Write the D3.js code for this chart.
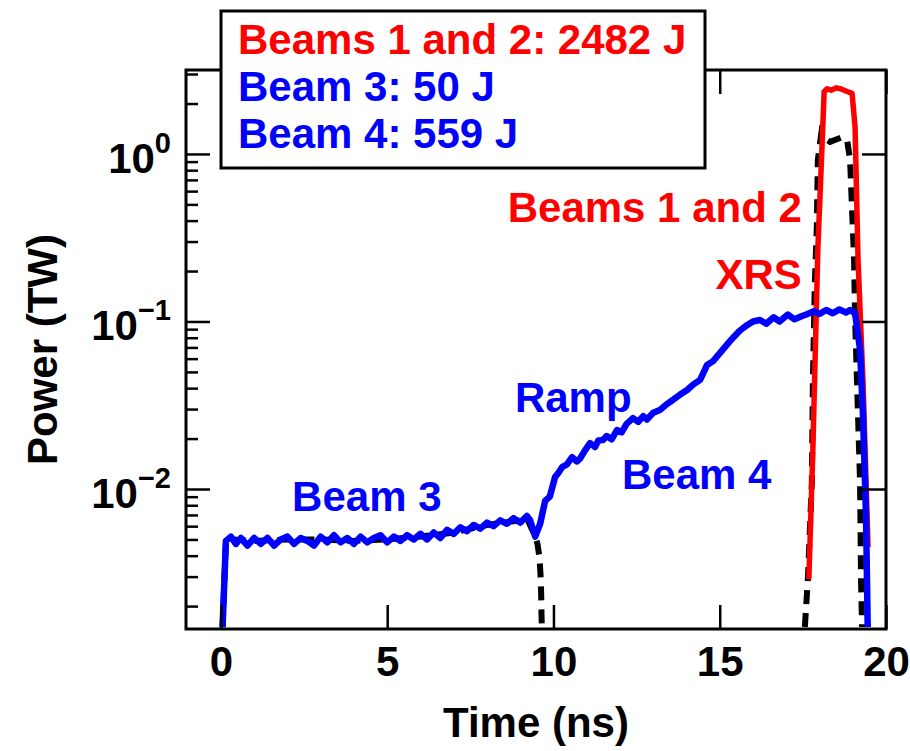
<!DOCTYPE html>
<html>
<head>
<meta charset="utf-8">
<script src="https://cdn.jsdelivr.net/npm/d3@7"></script>
<style>
  body { margin: 0; background: #fff; }
  svg text { font-family: "Liberation Sans", Arial, Helvetica, sans-serif; font-weight: bold; }
</style>
</head>
<body>
<div id="chart"></div>
<script>
// blue: beam 3 foot + beam 4 ramp (TW vs ns)
const blueTime = [0.05, 0.15, 0.3, 0.45, 0.6, 0.8, 1.0, 1.2, 1.4, 1.6, 1.8, 2.0, 2.2, 2.4, 2.6, 2.8, 3.0, 3.2, 3.4, 3.6, 3.8, 4.0, 4.2, 4.4, 4.6, 4.8, 5.0, 5.2, 5.4, 5.6, 5.8, 6.0, 6.2, 6.4, 6.6, 6.8, 7.0, 7.2, 7.4, 7.6, 7.8, 8.0, 8.2, 8.4, 8.6, 8.8, 9.0, 9.2, 9.3, 9.45,
  9.6, 9.75, 9.89, 10.05, 10.15, 10.26, 10.4, 10.56, 10.7, 10.8, 10.95, 11.1, 11.25, 11.35, 11.49, 11.6, 11.75, 11.91, 12.05, 12.2, 12.39, 12.55, 12.7, 12.81, 13.0, 13.2, 13.4, 13.59, 13.8, 14.02, 14.2, 14.41, 14.62, 14.8, 15.01, 15.2, 15.4, 15.6, 15.82, 16.0, 16.21, 16.4, 16.62, 16.8, 17.05, 17.25, 17.44, 17.6, 17.83, 18.0, 18.2, 18.4, 18.6, 18.8, 18.92, 19.07, 19.22, 19.31, 19.4, 19.45];
const bluePower = [0.0015, 0.0049, 0.0052, 0.0047, 0.0051, 0.0046, 0.0051, 0.0047, 0.0051, 0.0046, 0.0050, 0.0052, 0.0047, 0.0051, 0.0049, 0.0046, 0.0052, 0.0048, 0.0053, 0.0048, 0.0051, 0.0047, 0.0052, 0.0048, 0.0051, 0.0053, 0.0048, 0.0052, 0.0049, 0.0053, 0.0050, 0.0054, 0.0050, 0.0055, 0.0051, 0.0057, 0.0054, 0.0059, 0.0056, 0.0061, 0.0058, 0.0063, 0.0060, 0.0065, 0.0062, 0.0067, 0.0063, 0.0069, 0.0065, 0.0052,
  0.0062, 0.0085, 0.0090, 0.0118, 0.0125, 0.0135, 0.0140, 0.0155, 0.0146, 0.0152, 0.0170, 0.0188, 0.0178, 0.0195, 0.0196, 0.0207, 0.0198, 0.0225, 0.0218, 0.0245, 0.0265, 0.0252, 0.0272, 0.0260, 0.0285, 0.0296, 0.0320, 0.0340, 0.0365, 0.039, 0.042, 0.0448, 0.055, 0.058, 0.065, 0.072, 0.080, 0.088, 0.095, 0.100, 0.102, 0.097, 0.106, 0.100, 0.110, 0.103, 0.107, 0.110, 0.115, 0.111, 0.117, 0.112, 0.118, 0.113, 0.117, 0.112, 0.068, 0.027, 0.0068, 0.0015];

// red: beams 1 and 2
const redTime = [17.68, 17.80, 17.95, 18.06, 18.14, 18.23, 18.35, 18.5, 18.65, 18.83, 18.98, 19.07, 19.16, 19.31, 19.46];
const redPower = [0.0029, 0.017, 0.27, 0.92, 2.35, 2.45, 2.40, 2.48, 2.44, 2.36, 2.30, 1.45, 0.23, 0.043, 0.0045];

// black dashed: XRS, foot part and peak part
const xrsFootTime = [0.05, 0.15, 0.3, 1.0, 2.0, 3.0, 4.0, 5.0, 6.0, 7.0, 8.0, 9.0, 9.2, 9.45, 9.52, 9.58, 9.61, 9.63, 9.64, 9.65];
const xrsFootPower = [0.0015, 0.0049, 0.0050, 0.0049, 0.0050, 0.0050, 0.0049, 0.0050, 0.0052, 0.0055, 0.0061, 0.0065, 0.0067, 0.0052, 0.0047, 0.0039, 0.0031, 0.0024, 0.0018, 0.0015];
const xrsPeakTime = [17.56, 17.65, 17.77, 17.80, 17.86, 17.92, 17.95, 18.06, 18.15, 18.23, 18.32, 18.5, 18.68, 18.83, 18.92, 18.98, 19.04, 19.07, 19.16, 19.22, 19.25, 19.28];
const xrsPeakPower = [0.0015, 0.0029, 0.011, 0.043, 0.17, 0.37, 0.92, 1.35, 1.28, 1.21, 1.18, 1.22, 1.26, 1.21, 0.92, 0.46, 0.233, 0.106, 0.027, 0.011, 0.0028, 0.0015];

const xTicks = [0, 5, 10, 15, 20];
const yMajor = [0.01, 0.1, 1];
const yExp = ["\u22122", "\u22121", "0"];
const yMinor = [0.002, 0.003, 0.004, 0.005, 0.006, 0.007, 0.008, 0.009,
  0.02, 0.03, 0.04, 0.05, 0.06, 0.07, 0.08, 0.09,
  0.2, 0.3, 0.4, 0.5, 0.6, 0.7, 0.8, 0.9, 2, 3];

const legendLines = ["Beams 1 and 2: 2482 J", "Beam 3: 50 J", "Beam 4: 559 J"];
const legendColors = ["#ff0000", "#0000ff", "#0000ff"];

// in-plot labels, placed in data units (time, power)
const notes = [
  { text: "Beam 3", t: 2.14, p: 0.0074, color: "#0000ff", anchor: "start" },
  { text: "Ramp", t: 8.84, p: 0.0290, color: "#0000ff", anchor: "start" },
  { text: "Beam 4", t: 12.06, p: 0.0100, color: "#0000ff", anchor: "start" },
  { text: "Beams 1 and 2", t: 17.47, p: 0.390, color: "#ff0000", anchor: "end" },
  { text: "XRS", t: 17.47, p: 0.157, color: "#ff0000", anchor: "end" }
];

const W = 910, H = 751;
const mLeft = 186, mRight = 886, mTop = 70, mBottom = 629;
const FS = 42;

const svg = d3.select("#chart").append("svg")
  .attr("width", W).attr("height", H);

const x = d3.scaleLinear().domain([-1.05, 20]).range([mLeft, mRight]);
const y = d3.scaleLog().domain([0.00146, 3.17]).range([mBottom, mTop]);

svg.append("defs").append("clipPath").attr("id", "clip")
  .append("rect").attr("x", mLeft).attr("y", mTop)
  .attr("width", mRight - mLeft).attr("height", mBottom - mTop);

const line = d3.line().x(d => x(d[0])).y(d => y(d[1]));
const zip = (a, b) => a.map((v, i) => [v, b[i]]);

const plot = svg.append("g").attr("clip-path", "url(#clip)");

[zip(xrsFootTime, xrsFootPower), zip(xrsPeakTime, xrsPeakPower)].forEach(seg => {
  plot.append("path").datum(seg)
    .attr("d", line).attr("fill", "none").attr("stroke", "#000")
    .attr("stroke-width", 6).attr("stroke-dasharray", "14,9");
});
plot.append("path").datum(zip(redTime, redPower))
  .attr("d", line).attr("fill", "none").attr("stroke", "#ff0000")
  .attr("stroke-width", 5.5).attr("stroke-linejoin", "round");
plot.append("path").datum(zip(blueTime, bluePower))
  .attr("d", line).attr("fill", "none").attr("stroke", "#0000ff")
  .attr("stroke-width", 6.5).attr("stroke-linejoin", "round");

// ticks (inward)
function tickGroup(axis, tx, ty) {
  const g = svg.append("g").attr("transform", `translate(${tx},${ty})`).call(axis);
  g.select(".domain").remove();
  g.selectAll(".tick line").attr("stroke", "#000").attr("stroke-width", 2.5);
  return g;
}
tickGroup(d3.axisLeft(y).tickValues(yMajor).tickSizeInner(-24).tickSizeOuter(0).tickFormat(""), mLeft, 0);
tickGroup(d3.axisLeft(y).tickValues(yMinor).tickSizeInner(-12).tickSizeOuter(0).tickFormat(""), mLeft, 0);
tickGroup(d3.axisRight(y).tickValues(yMajor).tickSizeInner(-24).tickSizeOuter(0).tickFormat(""), mRight, 0);
tickGroup(d3.axisTop(x).tickValues(xTicks).tickSizeInner(-24).tickSizeOuter(0).tickFormat(""), 0, mTop);
const xg = tickGroup(d3.axisBottom(x).tickValues(xTicks).tickSizeInner(-24).tickSizeOuter(0).tickPadding(17), 0, mBottom);
xg.selectAll("text").attr("font-size", FS).attr("fill", "#000")
  .style("font-family", "'Liberation Sans', Arial, sans-serif").style("font-weight", "bold");

// frame
svg.append("rect").attr("x", mLeft).attr("y", mTop)
  .attr("width", mRight - mLeft).attr("height", mBottom - mTop)
  .attr("fill", "none").attr("stroke", "#000").attr("stroke-width", 3);

// y labels 10^n
yMajor.forEach((v, i) => {
  const t = svg.append("text").attr("x", 171).attr("y", y(v) + 19)
    .attr("text-anchor", "end").attr("font-size", FS).attr("fill", "#000").text("10");
  t.append("tspan").attr("font-size", 29).attr("dy", -20).text(yExp[i]);
});

// axis titles
svg.append("text").attr("x", (mLeft + mRight) / 2).attr("y", 737)
  .attr("text-anchor", "middle").attr("font-size", FS).text("Time (ns)");
svg.append("text").attr("transform", `translate(57,${(mTop + mBottom) / 2}) rotate(-90)`)
  .attr("text-anchor", "middle").attr("font-size", FS).text("Power (TW)");

// annotations
svg.selectAll(".note").data(notes).join("text")
  .attr("class", "note")
  .attr("x", d => x(d.t)).attr("y", d => y(d.p))
  .attr("text-anchor", d => d.anchor)
  .attr("font-size", FS).attr("fill", d => d.color)
  .text(d => d.text);

// legend box
const lg = svg.append("g");
lg.append("rect").attr("x", 221).attr("y", 11).attr("width", 484).attr("height", 157)
  .attr("fill", "#fff").attr("stroke", "#000").attr("stroke-width", 3);
lg.selectAll("text").data(legendLines).join("text")
  .attr("x", 238).attr("y", (d, i) => 54 + i * 47)
  .attr("font-size", FS).attr("fill", (d, i) => legendColors[i])
  .text(d => d);
</script>
</body>
</html>
